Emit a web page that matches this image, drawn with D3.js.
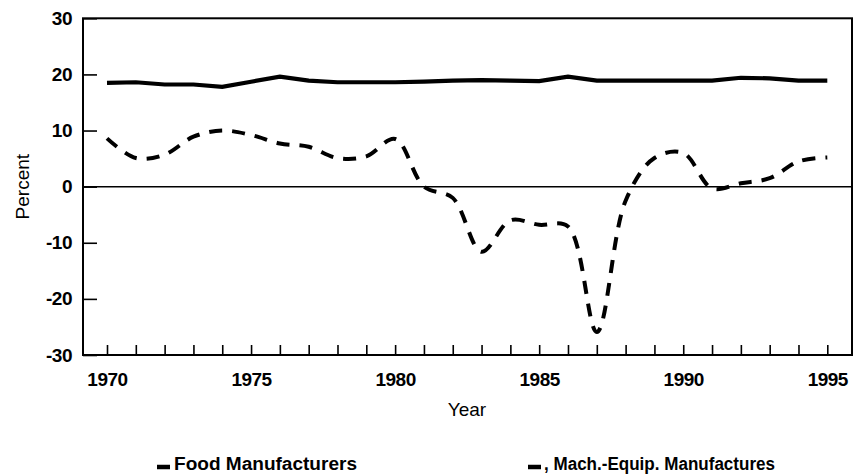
<!DOCTYPE html>
<html>
<head>
<meta charset="utf-8">
<script src="https://cdn.jsdelivr.net/npm/d3@7"></script>
<style>
  html, body { margin: 0; padding: 0; background: #fff; }
  svg { display: block; }
  text { font-family: "Liberation Sans", Arial, sans-serif; fill: #000; }
</style>
</head>
<body>
<svg id="chart" width="855" height="476"></svg>
<script>
const years = d3.range(1970, 1996);
const foodManufacturers = [18.5, 18.6, 18.2, 18.2, 17.8, 18.7, 19.6, 18.9, 18.6, 18.6,
                           18.6, 18.7, 18.9, 19.0, 18.9, 18.8, 19.6, 18.9, 18.9, 18.9,
                           18.9, 18.9, 19.4, 19.3, 18.9, 18.9];
const machEquipManufactures = [8.6, 5.1, 5.7, 8.9, 10.0, 9.2, 7.7, 7.1, 5.1, 5.4,
                               8.5, 0.0, -2.0, -11.6, -6.0, -6.8, -7.1, -25.9, -2.5, 5.1,
                               6.0, -0.3, 0.6, 1.5, 4.5, 5.2];
const yTicks = [-30, -20, -10, 0, 10, 20, 30];
const xLabelYears = [1970, 1975, 1980, 1985, 1990, 1995];
const seriesNames = ["Food Manufacturers", ", Mach.-Equip. Manufactures"];
const yTitle = "Percent";
const xTitle = "Year";

const svg = d3.select("#chart");
const frame = { left: 83, right: 852, top: 18.3, bottom: 355 };

const x = d3.scaleLinear().domain([1970, 1995]).range([107, 827.3]);
const y = d3.scaleLinear().domain([-30, 30]).range([frame.bottom, frame.top]);

// zero line
svg.append("line")
  .attr("x1", frame.left).attr("x2", frame.right)
  .attr("y1", y(0)).attr("y2", y(0))
  .attr("stroke", "#000").attr("stroke-width", 1.5);

// y axis
const yAxis = svg.append("g")
  .attr("transform", `translate(${frame.left},0)`)
  .call(d3.axisLeft(y).tickValues(yTicks).tickSize(-14).tickPadding(11)
    .tickFormat(d => String(d)));
yAxis.select(".domain").remove();
yAxis.selectAll(".tick line").attr("stroke", "#000").attr("stroke-width", 1.6);
yAxis.selectAll(".tick text")
  .style("font-size", "19px").style("font-weight", "bold").style("letter-spacing", "-0.5px");

// x axis
const xAxis = svg.append("g")
  .attr("transform", `translate(0,${frame.bottom})`)
  .call(d3.axisBottom(x).tickValues(years).tickSize(-10).tickPadding(18)
    .tickFormat(d => xLabelYears.includes(d) ? String(d) : ""));
xAxis.select(".domain").remove();
xAxis.selectAll(".tick line").attr("stroke", "#000").attr("stroke-width", 1.6);
xAxis.selectAll(".tick text")
  .style("font-size", "19px").style("font-weight", "bold").style("letter-spacing", "-0.5px");

// frame
svg.append("rect")
  .attr("x", frame.left).attr("y", frame.top)
  .attr("width", frame.right - frame.left).attr("height", frame.bottom - frame.top)
  .attr("fill", "none").attr("stroke", "#000").attr("stroke-width", 2);

// lines
const foodLine = d3.line().x((d, i) => x(years[i])).y(d => y(d)).curve(d3.curveLinear);
const machLine = d3.line().x((d, i) => x(years[i])).y(d => y(d)).curve(d3.curveCatmullRom.alpha(0.5));

svg.append("path").datum(foodManufacturers)
  .attr("d", foodLine).attr("fill", "none")
  .attr("stroke", "#000").attr("stroke-width", 4.2);

svg.append("path").datum(machEquipManufactures)
  .attr("d", machLine).attr("fill", "none")
  .attr("stroke", "#000").attr("stroke-width", 4)
  .attr("stroke-dasharray", "13,10");

// titles
svg.append("text")
  .attr("transform", `translate(29,${y(0)}) rotate(-90)`)
  .attr("text-anchor", "middle")
  .style("font-size", "19px")
  .text(yTitle);

svg.append("text")
  .attr("x", 467).attr("y", 416)
  .attr("text-anchor", "middle")
  .style("font-size", "19px")
  .text(xTitle);

// legend
const legend = svg.append("g");
legend.append("line")
  .attr("x1", 157).attr("x2", 170).attr("y1", 467).attr("y2", 467)
  .attr("stroke", "#000").attr("stroke-width", 4.5);
legend.append("text")
  .attr("x", 174).attr("y", 470)
  .attr("textLength", 183).attr("lengthAdjust", "spacingAndGlyphs")
  .style("font-size", "18px").style("font-weight", "bold")
  .text(seriesNames[0]);

legend.append("line")
  .attr("x1", 528).attr("x2", 541).attr("y1", 467).attr("y2", 467)
  .attr("stroke", "#000").attr("stroke-width", 4.5);
legend.append("text")
  .attr("x", 544).attr("y", 470)
  .attr("textLength", 231).attr("lengthAdjust", "spacingAndGlyphs")
  .style("font-size", "18px").style("font-weight", "bold")
  .text(seriesNames[1]);
</script>
</body>
</html>
